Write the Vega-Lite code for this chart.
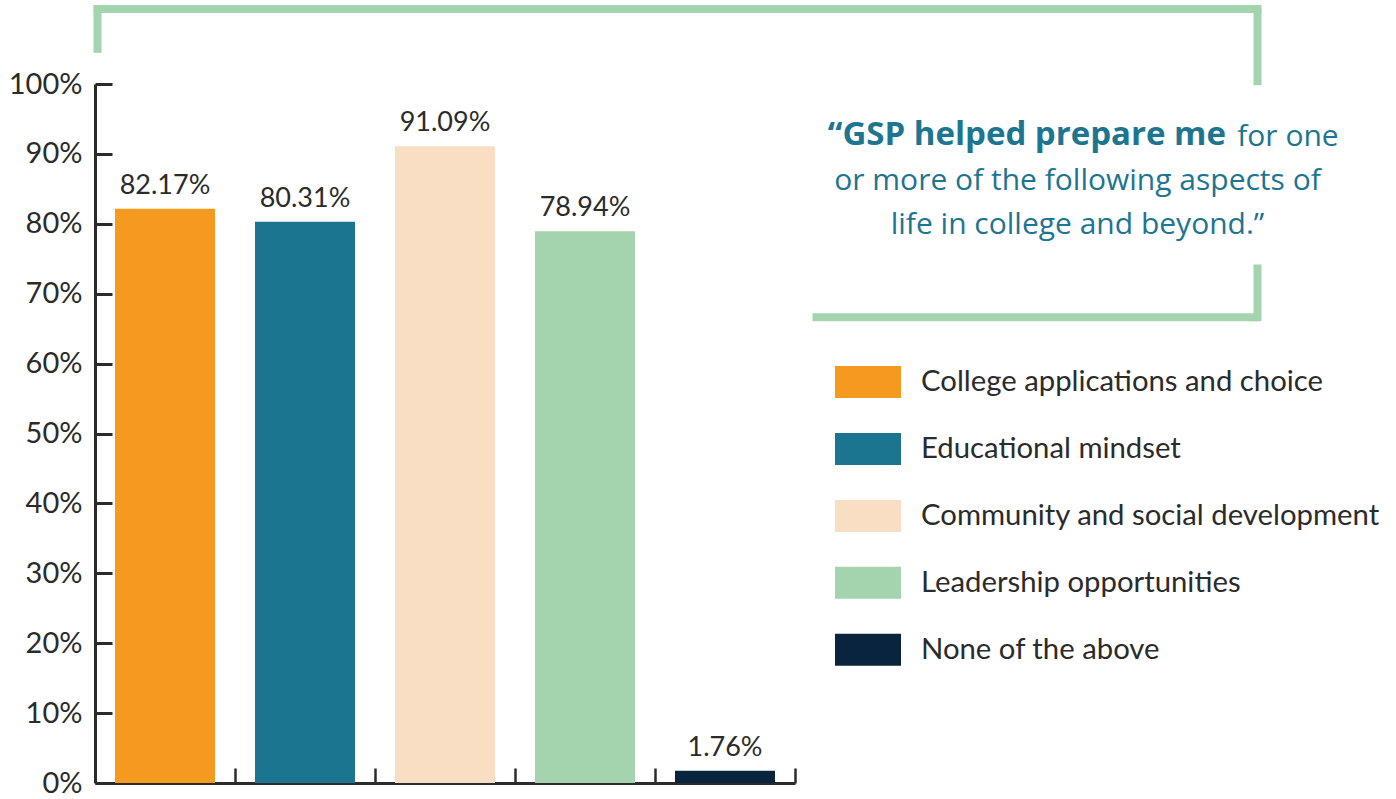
{
  "$schema": "https://vega.github.io/schema/vega-lite/v6.json",
  "width": 1162,
  "height": 699,
  "autosize": {"type": "none"},
  "padding": {"left": 95, "top": 84, "right": 139, "bottom": 16},
  "background": "white",
  "config": {
    "view": {"stroke": null},
    "font": "Lato"
  },
  "title": {
    "text": "“GSP helped prepare me",
    "anchor": "end",
    "frame": "group",
    "font": "Open Sans",
    "fontSize": 33,
    "fontWeight": "bold",
    "color": "#1D7590",
    "baseline": "alphabetic",
    "offset": 0,
    "dx": -31,
    "dy": 173
  },
  "data": {
    "values": [
      {"aspect": "College applications and choice", "value": 0.8217},
      {"aspect": "Educational mindset", "value": 0.8031},
      {"aspect": "Community and social development", "value": 0.9109},
      {"aspect": "Leadership opportunities", "value": 0.7894},
      {"aspect": "None of the above", "value": 0.0176}
    ]
  },
  "layer": [
    {
      "layer": [
        {
          "mark": {"type": "bar"},
          "encoding": {
            "x": {
              "field": "aspect", "type": "nominal", "sort": null,
              "scale": {"range": [0, 700], "paddingInner": 0.2857, "paddingOuter": 0.1429},
              "axis": {
                "orient": "bottom", "title": null, "labels": false,
                "domainColor": "#2b2b2b", "domainWidth": 3,
                "tickColor": "#2b2b2b", "tickWidth": 2.5, "tickSize": -15,
                "bandPosition": 1, "tickOffset": 20, "grid": false
              }
            },
            "y": {
              "field": "value", "type": "quantitative",
              "scale": {"domain": [0, 1], "nice": false},
              "axis": {
                "title": null, "format": ".0%",
                "values": [0, 0.1, 0.2, 0.3, 0.4, 0.5, 0.6, 0.7, 0.8, 0.9, 1],
                "domainColor": "#2b2b2b", "domainWidth": 3,
                "tickColor": "#2b2b2b", "tickWidth": 3, "tickSize": -17,
                "labelFont": "Lato", "labelFontSize": 29, "labelColor": "#2b2b2b",
                "labelPadding": 30, "grid": false
              }
            },
            "color": {
              "field": "aspect", "type": "nominal", "sort": null,
              "scale": {
                "domain": ["College applications and choice", "Educational mindset", "Community and social development", "Leadership opportunities", "None of the above"],
                "range": ["#F6991F", "#1B7490", "#F9DEC3", "#A3D4AD", "#08243F"]
              },
              "legend": {
                "orient": "none", "legendX": 740, "legendY": 265,
                "title": null,
                "symbolType": "M-1,-0.485H1V0.485H-1Z",
                "symbolSize": 4356, "symbolStrokeWidth": 0, "symbolOpacity": 1,
                "labelFont": "Lato", "labelFontSize": 29.3, "labelColor": "#2b2b2b",
                "labelOffset": 20, "rowPadding": 16.95, "labelLimit": 600
              }
            }
          }
        },
        {
          "mark": {"type": "text", "baseline": "alphabetic", "dy": -15, "font": "Lato", "fontSize": 27, "color": "#2b2b2b"},
          "encoding": {
            "x": {"field": "aspect", "type": "nominal", "sort": null},
            "y": {"field": "value", "type": "quantitative"},
            "text": {"field": "value", "type": "quantitative", "format": ".2%"}
          }
        }
      ]
    },
    {
      "transform": [{"filter": "false"}],
      "mark": "point",
      "encoding": {
        "x": {
          "field": "value", "type": "quantitative",
          "scale": {"domain": [0, 1], "range": [2, 1162], "nice": false, "zero": false},
          "axis": {
            "orient": "top", "offset": 75.5, "values": [1], "labels": false,
            "domainColor": "#A3D4AD", "domainWidth": 8, "domainCap": "square",
            "tickColor": "#A3D4AD", "tickWidth": 8, "tickSize": -76.2, "tickCap": "butt",
            "grid": false,
            "title": "for one",
            "titleFont": "Open Sans", "titleFontSize": 30, "titleFontWeight": "normal", "titleColor": "#1D7590",
            "titleX": 1141.7, "titleY": 136.5, "titleAlign": "left", "titleBaseline": "alphabetic", "titleAngle": 0
          }
        }
      }
    },
    {
      "transform": [{"filter": "false"}],
      "mark": "point",
      "encoding": {
        "x": {
          "field": "value", "type": "quantitative",
          "scale": {"domain": [0, 1], "range": [2, 1162], "nice": false, "zero": false},
          "axis": {
            "orient": "top", "offset": 75.5, "values": [0], "labels": false,
            "domain": false,
            "tickColor": "#A3D4AD", "tickWidth": 8, "tickSize": -43.8, "tickCap": "butt",
            "grid": false, "title": null
          }
        }
      }
    },
    {
      "transform": [{"filter": "false"}],
      "mark": "point",
      "encoding": {
        "x": {
          "field": "value", "type": "quantitative",
          "scale": {"domain": [0, 1], "range": [717, 1162], "nice": false, "zero": false},
          "axis": {
            "orient": "top", "offset": -232.7, "values": [1], "labels": false,
            "domainColor": "#A3D4AD", "domainWidth": 8, "domainCap": "butt",
            "tickColor": "#A3D4AD", "tickWidth": 8, "tickSize": 48.7, "tickCap": "square",
            "grid": false,
            "title": ["or more of the following aspects of", "life in college and beyond.”"],
            "titleFont": "Open Sans", "titleFontSize": 30, "titleFontWeight": "normal", "titleColor": "#1D7590",
            "titleX": 982, "titleY": -127.7, "titleAlign": "center", "titleBaseline": "alphabetic",
            "titleAngle": 0, "titleLineHeight": 44
          }
        }
      }
    }
  ],
  "resolve": {"scale": {"x": "independent"}, "axis": {"x": "independent"}}
}
